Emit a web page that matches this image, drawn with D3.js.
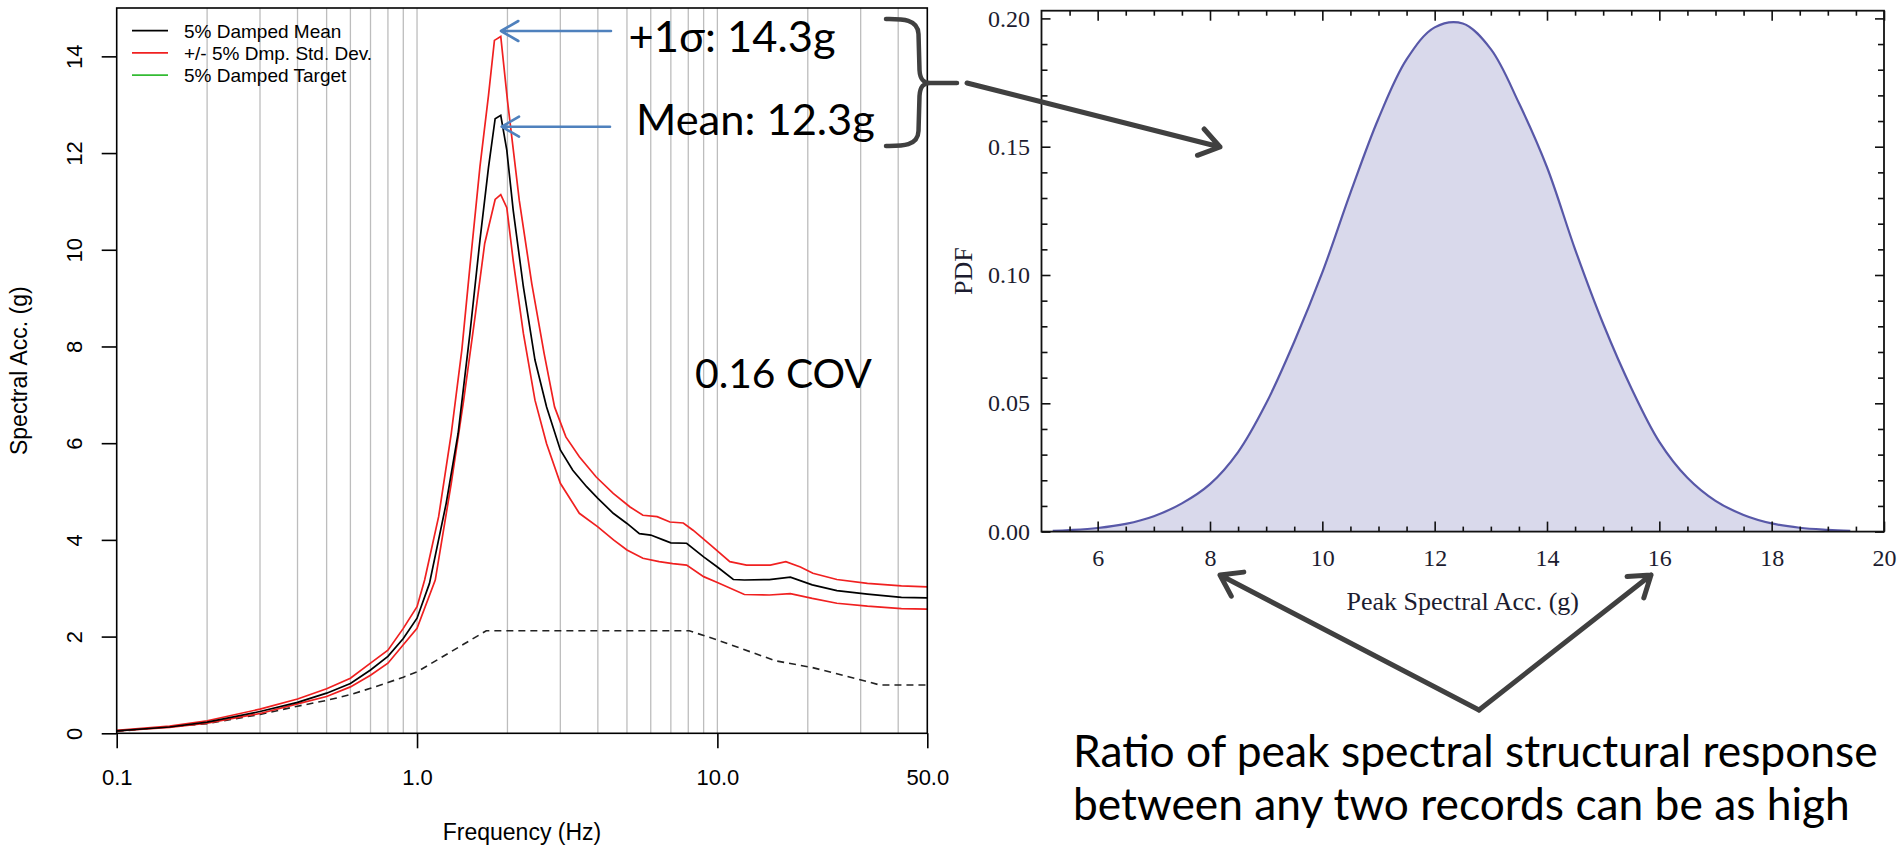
<!DOCTYPE html>
<html>
<head>
<meta charset="utf-8">
<script src="https://cdn.jsdelivr.net/npm/d3@7"></script>
<style>
  body { margin: 0; background: #fff; }
  svg { display: block; }
</style>
</head>
<body>
<svg id="fig" width="1901" height="846"></svg>
<script>
// ---- left panel: response spectra ----
const meanFreq = [0.1, 0.15, 0.2, 0.3, 0.4, 0.5, 0.6, 0.7, 0.8, 0.9, 1.0, 1.1, 1.25, 1.37, 1.5, 1.62, 1.73, 1.82, 1.9, 1.99,
    2.09, 2.26, 2.47, 2.7, 3.0, 3.3, 3.67, 4.0, 4.5, 5.0, 5.5, 6.0, 6.6, 7.0, 7.9, 9.0, 10, 11.3, 12.3, 14.9, 17.5, 20.7, 25, 31.6, 41, 50];
const meanAcc = [0.05, 0.13, 0.23, 0.45, 0.64, 0.83, 1.03, 1.31, 1.59, 1.96, 2.38, 3.1, 4.75, 6.2, 8.27, 10.2, 11.71, 12.71, 12.78, 12.06,
    10.82, 9.23, 7.72, 6.75, 5.86, 5.44, 5.10, 4.86, 4.55, 4.34, 4.13, 4.10, 4.0, 3.94, 3.93, 3.65, 3.44, 3.18, 3.17, 3.18, 3.23, 3.07, 2.95, 2.88, 2.81, 2.80];

const upperFreq = [0.1, 0.15, 0.2, 0.3, 0.4, 0.5, 0.6, 0.7, 0.8, 0.9, 1.0, 1.06, 1.18, 1.3, 1.41, 1.5, 1.62, 1.73, 1.81, 1.9,
    2.0, 2.19, 2.41, 2.65, 2.87, 3.13, 3.47, 3.95, 4.5, 5.12, 5.65, 6.3, 6.95, 7.7, 8.3, 9.5, 11.0, 12.5, 15, 16.9, 18.9, 20.8, 25, 31.6, 41, 50];
const upperAcc = [0.06, 0.15, 0.26, 0.50, 0.71, 0.92, 1.14, 1.45, 1.72, 2.17, 2.62, 3.17, 4.48, 6.2, 7.93, 9.65, 11.72, 13.2, 14.33, 14.41,
    13.09, 11.02, 9.3, 7.85, 6.75, 6.13, 5.72, 5.30, 4.96, 4.68, 4.51, 4.48, 4.37, 4.35, 4.2, 3.89, 3.55, 3.48, 3.48, 3.55, 3.44, 3.31, 3.18, 3.10, 3.05, 3.03];

const lowerFreq = [0.1, 0.15, 0.2, 0.3, 0.4, 0.5, 0.6, 0.7, 0.8, 0.9, 1.0, 1.15, 1.3, 1.43, 1.56, 1.68, 1.82, 1.9, 1.99, 2.09,
    2.26, 2.47, 2.7, 3.0, 3.47, 4.0, 4.51, 5.0, 5.65, 6.4, 7.1, 7.9, 9.0, 10, 12.3, 14.9, 17.5, 20.7, 25, 31.6, 41, 50];
const lowerAcc = [0.05, 0.12, 0.21, 0.41, 0.61, 0.76, 0.96, 1.2, 1.45, 1.83, 2.17, 3.17, 5.17, 6.89, 8.61, 10.13, 11.04, 11.14, 10.87, 9.78,
    8.27, 6.89, 5.99, 5.17, 4.55, 4.27, 4.0, 3.79, 3.62, 3.55, 3.51, 3.48, 3.24, 3.12, 2.87, 2.86, 2.89, 2.79, 2.69, 2.63, 2.58, 2.57];

// dashed target spectrum
const targetFreq = [0.1, 0.2, 0.3, 0.4, 0.5, 0.6, 0.7, 0.8, 0.9, 1.0, 1.7, 8.06, 10, 15.6, 20.7, 31.6, 34.7, 50];
const targetAcc = [0.04, 0.2, 0.39, 0.56, 0.68, 0.80, 0.93, 1.05, 1.16, 1.27, 2.12, 2.12, 1.93, 1.50, 1.36, 1.07, 1.0, 1.0];

const gridFreqs = [0.2, 0.3, 0.4, 0.5, 0.6, 0.7, 0.8, 0.9, 1, 2, 3, 4, 5, 6, 7, 8, 9, 10, 20, 30, 40];
const freqTicks = [0.1, 1, 10, 50];
const accTicks = [0, 2, 4, 6, 8, 10, 12, 14];
const legendLabels = ["5% Damped Mean", "+/- 5% Dmp. Std. Dev.", "5% Damped Target"];
const legendColors = ["#000000", "#f02020", "#33bb33"];

// ---- right panel: PDF of peak spectral acceleration ----
const pdfX = [5.2, 5.5, 6, 6.5, 7, 7.5, 8, 8.5, 9, 9.5, 10, 10.5, 11, 11.5, 12, 12.5, 13, 13.5, 14, 14.5,
    15, 15.5, 16, 16.5, 17, 17.5, 18, 18.5, 19, 19.4];
const pdfY = [0.0003, 0.0006, 0.0014, 0.003, 0.006, 0.011, 0.0185, 0.031, 0.050, 0.074, 0.101, 0.132, 0.161, 0.184, 0.1965, 0.198,
    0.188, 0.167, 0.142, 0.110, 0.081, 0.056, 0.035, 0.021, 0.012, 0.0065, 0.0032, 0.0015, 0.0007, 0.0003];
const peakTicks = [6, 8, 10, 12, 14, 16, 18, 20];
const pdfTicks = [0, 0.05, 0.10, 0.15, 0.20];

const svg = d3.select("#fig");
const zip = (a, b) => a.map((v, i) => [v, b[i]]);

// ================= left panel =================
const L = { left: 116.7, right: 927.3, top: 8, bottom: 733.3 };
const x = d3.scaleLog().domain([0.1, 50]).range([L.left, L.right]);
const y = d3.scaleLinear().domain([0, 15]).range([L.bottom, L.top]);
const sans = "'Liberation Sans', Arial, sans-serif";

svg.append("g")
    .selectAll("line")
    .data(gridFreqs)
    .join("line")
    .attr("x1", d => x(d)).attr("x2", d => x(d))
    .attr("y1", L.top).attr("y2", L.bottom)
    .attr("stroke", "#bdbdbd")
    .attr("stroke-width", 1.3);

const line = d3.line().x(d => x(d[0])).y(d => y(d[1]));

svg.append("path")
    .datum(zip(targetFreq, targetAcc))
    .attr("d", line)
    .attr("fill", "none")
    .attr("stroke", "#222")
    .attr("stroke-width", 1.6)
    .attr("stroke-dasharray", "7,5");

[[upperFreq, upperAcc], [lowerFreq, lowerAcc]].forEach(([f, a]) => {
    svg.append("path")
        .datum(zip(f, a))
        .attr("d", line)
        .attr("fill", "none")
        .attr("stroke", "#f02020")
        .attr("stroke-width", 1.7);
});

svg.append("path")
    .datum(zip(meanFreq, meanAcc))
    .attr("d", line)
    .attr("fill", "none")
    .attr("stroke", "#000")
    .attr("stroke-width", 1.7);

// frame
svg.append("rect")
    .attr("x", L.left).attr("y", L.top)
    .attr("width", L.right - L.left).attr("height", L.bottom - L.top)
    .attr("fill", "none").attr("stroke", "#000").attr("stroke-width", 1.6);

// x axis
const gx = svg.append("g")
    .attr("transform", `translate(0,${L.bottom})`)
    .call(d3.axisBottom(x).tickValues(freqTicks).tickFormat(d3.format(".1f")).tickSize(15).tickSizeOuter(0).tickPadding(21));
gx.select(".domain").remove();
gx.selectAll("line").attr("stroke-width", 1.6);
gx.selectAll("text").attr("font-family", sans).attr("font-size", 22).attr("fill", "#000");

// y axis (labels rotated like R's default)
const gy = svg.append("g")
    .attr("transform", `translate(${L.left},0)`)
    .call(d3.axisLeft(y).tickValues(accTicks).tickSize(15).tickSizeOuter(0));
gy.select(".domain").remove();
gy.selectAll("line").attr("stroke-width", 1.6);
gy.selectAll("text")
    .attr("font-family", sans).attr("font-size", 22).attr("fill", "#000")
    .attr("x", null).attr("dy", "0.35em")
    .attr("text-anchor", "middle")
    .attr("transform", "translate(-42.7,0) rotate(-90)");

svg.append("text")
    .attr("x", (L.left + L.right) / 2).attr("y", 840)
    .attr("text-anchor", "middle")
    .attr("font-family", sans).attr("font-size", 23)
    .text("Frequency (Hz)");

svg.append("text")
    .attr("transform", `translate(27,${(L.top + L.bottom) / 2}) rotate(-90)`)
    .attr("text-anchor", "middle")
    .attr("font-family", sans).attr("font-size", 23)
    .text("Spectral Acc. (g)");

// legend
const leg = svg.append("g").attr("transform", "translate(132,30.7)");
legendLabels.forEach((lab, i) => {
    leg.append("line")
        .attr("x1", 0).attr("x2", 36)
        .attr("y1", i * 22.2).attr("y2", i * 22.2)
        .attr("stroke", legendColors[i]).attr("stroke-width", 1.7);
    leg.append("text")
        .attr("x", 52).attr("y", i * 22.2 + 7)
        .attr("font-family", sans).attr("font-size", 19)
        .text(lab);
});

// ================= right panel =================
const R = { left: 1041.5, right: 1884, top: 10.7, bottom: 531.6 };
const xr = d3.scaleLinear().domain([5, 20]).range([R.left, R.right]);
const yr = d3.scaleLinear().domain([0, 0.2]).range([R.bottom, 18.4]);
const serif = "'Liberation Serif', 'Times New Roman', serif";

const area = d3.area()
    .x(d => xr(d[0]))
    .y0(yr(0))
    .y1(d => yr(d[1]))
    .curve(d3.curveCatmullRom.alpha(0.5));

svg.append("path")
    .datum(zip(pdfX, pdfY))
    .attr("d", area)
    .attr("fill", "#d9d9eb");

svg.append("path")
    .datum(zip(pdfX, pdfY))
    .attr("d", area.lineY1())
    .attr("fill", "none")
    .attr("stroke", "#5858a8")
    .attr("stroke-width", 2.2);

svg.append("rect")
    .attr("x", R.left).attr("y", R.top)
    .attr("width", R.right - R.left).attr("height", R.bottom - R.top)
    .attr("fill", "none").attr("stroke", "#111").attr("stroke-width", 1.8);

const minorX = d3.range(5.5, 20, 0.5).filter(v => v % 2 !== 0);
const minorY = d3.range(0.01, 0.2, 0.01).filter(v => Math.abs(v * 20 - Math.round(v * 20)) > 1e-6);

function frameAxis(axis, transform, size, values, labels) {
    const g = svg.append("g")
        .attr("transform", transform)
        .call(axis.tickValues(values).tickSize(-size).tickSizeOuter(0));
    g.select(".domain").remove();
    g.selectAll("line").attr("stroke", "#111").attr("stroke-width", 1.6);
    if (!labels) g.selectAll("text").remove();
    return g;
}

// ticks on all four sides, pointing inwards
const bx = frameAxis(d3.axisBottom(xr).tickFormat(d3.format("d")).tickPadding(17), `translate(0,${R.bottom})`, 10, peakTicks, true);
frameAxis(d3.axisBottom(xr), `translate(0,${R.bottom})`, 5, minorX, false);
frameAxis(d3.axisTop(xr), `translate(0,${R.top})`, 10, peakTicks, false);
frameAxis(d3.axisTop(xr), `translate(0,${R.top})`, 5, minorX, false);
const ly = frameAxis(d3.axisLeft(yr).tickFormat(d3.format(".2f")).tickPadding(11.5), `translate(${R.left},0)`, 9, pdfTicks, true);
frameAxis(d3.axisLeft(yr), `translate(${R.left},0)`, 6, minorY, false);
frameAxis(d3.axisRight(yr), `translate(${R.right},0)`, 9, pdfTicks, false);
frameAxis(d3.axisRight(yr), `translate(${R.right},0)`, 6, minorY, false);

[bx, ly].forEach(g => g.selectAll("text")
    .attr("font-family", serif).attr("font-size", 24).attr("fill", "#1c1c30"));

svg.append("text")
    .attr("x", (R.left + R.right) / 2).attr("y", 610)
    .attr("text-anchor", "middle")
    .attr("font-family", serif).attr("font-size", 26).attr("fill", "#1c1c30")
    .text("Peak Spectral Acc. (g)");

svg.append("text")
    .attr("transform", `translate(972,${(R.top + R.bottom) / 2}) rotate(-90)`)
    .attr("text-anchor", "middle")
    .attr("font-family", serif).attr("font-size", 26).attr("fill", "#1c1c30")
    .text("PDF");

// ================= annotations =================
const note = "Lato, 'Open Sans', sans-serif";

function arrow(x1, y1, x2, y2, head, angle, color, width) {
    const a = Math.atan2(y2 - y1, x2 - x1);
    const h1 = [x2 - head * Math.cos(a - angle), y2 - head * Math.sin(a - angle)];
    const h2 = [x2 - head * Math.cos(a + angle), y2 - head * Math.sin(a + angle)];
    svg.append("path")
        .attr("d", `M${x1},${y1}L${x2},${y2}M${h1}L${x2},${y2}L${h2}`)
        .attr("fill", "none")
        .attr("stroke", color)
        .attr("stroke-width", width)
        .attr("stroke-linecap", "round")
        .attr("stroke-linejoin", "round");
}

// text sized so it spans the same width as in the picture
function fitted(txt, x0, y0, width, size) {
    const t = svg.append("text")
        .attr("x", x0).attr("y", y0)
        .attr("font-family", note).attr("font-size", size)
        .attr("fill", "#000")
        .text(txt);
    const w = t.node().getComputedTextLength();
    if (w > 0) t.attr("font-size", size * width / w);
    return t;
}

arrow(611, 31, 501, 31, 20, Math.PI / 6, "#4f81bd", 2.6);
arrow(610, 126.7, 501.7, 126.7, 20, Math.PI / 6, "#4f81bd", 2.6);

fitted("+1σ: 14.3g", 628.6, 52, 207, 44);
fitted("Mean: 12.3g", 636, 135, 239, 44);
fitted("0.16 COV", 695, 388, 177, 42);
fitted("Ratio of peak spectral structural response", 1073, 767, 805, 44);
fitted("between any two records can be as high", 1073, 820, 777, 44);

// brace grouping the two values
svg.append("path")
    .attr("d", "M886,19 C900,19 918,18 918.5,34 L919.5,70 C920,79 923,83 930,83 L957,83 " +
               "M930,83 C923,83 920,87 919.5,96 L918.5,131 C918,147 900,146 886,146")
    .attr("fill", "none")
    .attr("stroke", "#404040")
    .attr("stroke-width", 4.5)
    .attr("stroke-linecap", "round");

arrow(967, 83, 1220, 147, 24, 0.6, "#404040", 5);
arrow(1479, 710, 1220, 575, 24, 0.6, "#404040", 5);
arrow(1479, 710, 1651, 575, 24, 0.6, "#404040", 5);
</script>
</body>
</html>
